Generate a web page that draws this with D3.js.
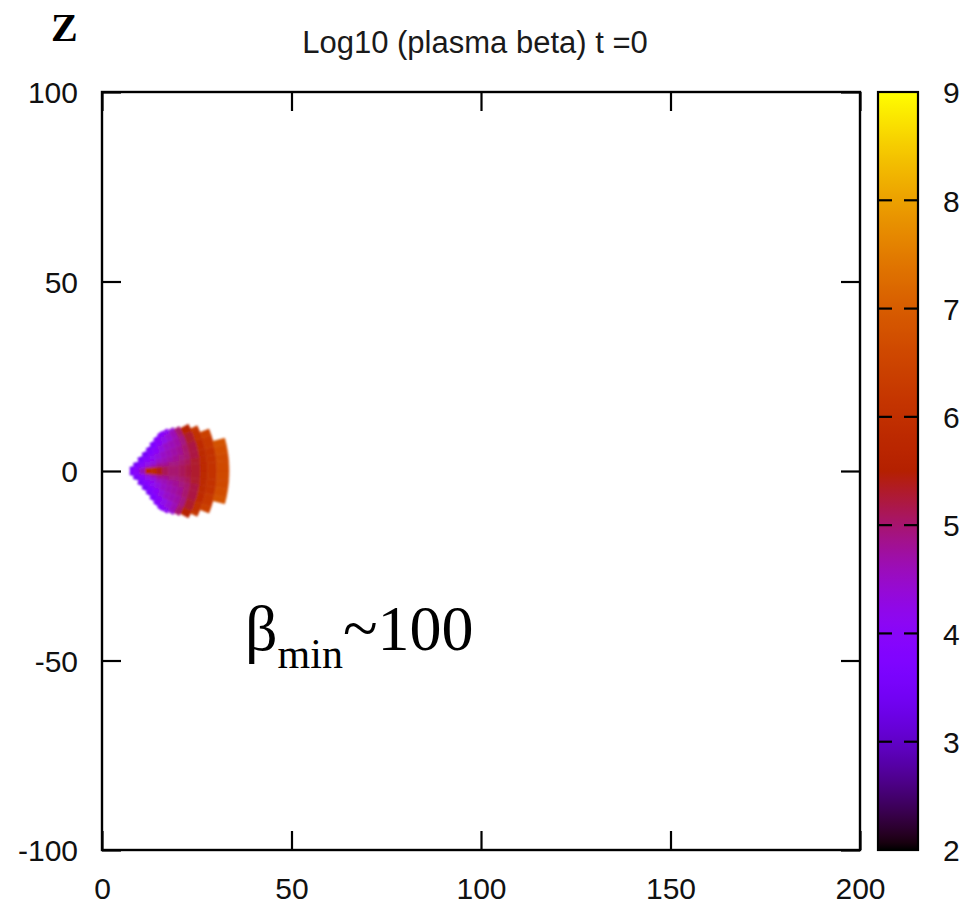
<!DOCTYPE html>
<html>
<head>
<meta charset="utf-8">
<script src="https://cdn.jsdelivr.net/npm/d3@7"></script>
<style>
  html, body { margin: 0; padding: 0; background: #fff; }
  svg { display: block; }
</style>
</head>
<body>
<svg id="chart" width="968" height="912"></svg>
<script>
// ---- data ----------------------------------------------------------------
const xTicks = [0, 50, 100, 150, 200];
const zTicks = [-100, -50, 0, 50, 100];
const cbTicks = [2, 3, 4, 5, 6, 7, 8, 9];

// Torus cells on a spherical grid centred at the origin (r, elevation angle).
const shellEdges = [7.4, 8.5, 10, 11.5, 13, 14.5, 16, 17.5, 19, 20.5, 22, 23.5, 25.9, 27.8, 30.3, 33.5];
const angleEdges = [0, 4.5, 8, 12, 18, 24, 30, 36];         // degrees from the equator
const shellThetaMax = [8, 14, 20, 24, 27, 30, 32, 33.5, 33, 31.5, 30, 28.5, 25.5, 21.5, 15];
// log10(beta) per shell, from the equator outward (mirrored below the equator)
const logBeta = [
  [3.8, 3.5],
  [4.0, 3.9, 3.6, 3.4],
  [4.6, 4.1, 3.9, 3.6, 3.4],
  [5.8, 4.4, 4.2, 3.9, 3.5],
  [5.9, 4.6, 4.3, 4.1, 3.8, 3.5],
  [5.4, 4.8, 4.5, 4.3, 4.0, 3.7],
  [5.1, 4.8, 4.6, 4.5, 4.3, 4.0, 3.8],
  [5.0, 4.9, 4.7, 4.6, 4.5, 4.2, 3.9],
  [5.0, 4.9, 4.8, 4.7, 4.6, 4.4, 4.1],
  [5.1, 5.0, 4.9, 4.8, 4.7, 4.6, 4.4],
  [5.2, 5.1, 5.0, 5.0, 4.9, 5.0],
  [5.3, 5.3, 5.2, 5.2, 5.3, 5.6],
  [5.8, 5.8, 5.8, 5.9, 6.0, 6.2],
  [6.1, 6.1, 6.1, 6.2, 6.4],
  [6.6, 6.6, 6.7, 6.8]
];

// ---- layout ----------------------------------------------------------------
const svg = d3.select("#chart");
const plot = { left: 102, right: 860, top: 92, bottom: 850 };
const cb = { left: 878, right: 918 };
const sansFont = "'Liberation Sans', Arial, sans-serif";
const serifFont = "'Liberation Serif', 'Times New Roman', serif";
const plain = d => String(d);

const x = d3.scaleLinear().domain([0, 200]).range([plot.left, plot.right]);
const z = d3.scaleLinear().domain([-100, 100]).range([plot.bottom, plot.top]);
const c = d3.scaleLinear().domain([2, 9]).range([plot.bottom, plot.top]);

// gnuplot default palette (rgbformulae 7,5,15)
function palette(v) {
  const t = Math.max(0, Math.min(1, (v - 2) / 7));
  const r = Math.sqrt(t), g = t * t * t, b = Math.max(0, Math.sin(2 * Math.PI * t));
  return d3.rgb(255 * r, 255 * g, 255 * b).formatHex();
}

const defs = svg.append("defs");
const blur = defs.append("filter").attr("id", "soft")
  .attr("x", "-10%").attr("y", "-10%").attr("width", "120%").attr("height", "120%");
blur.append("feGaussianBlur").attr("stdDeviation", 0.9);

// ---- torus cells --------------------------------------------------------------
const k = x(1) - x(0);
const cells = [];
logBeta.forEach((row, i) => {
  const r0 = shellEdges[i], r1 = shellEdges[i + 1];
  row.forEach((v, j) => {
    const a0 = angleEdges[j];
    const a1 = Math.min(angleEdges[j + 1], shellThetaMax[i]);
    cells.push({ r0, r1, a0, a1, v, side: 1 });
    cells.push({ r0, r1, a0, a1, v, side: -1 });
  });
});

const rad = Math.PI / 180;
const arc = d3.arc()
  .innerRadius(d => d.r0 * k)
  .outerRadius(d => d.r1 * k)
  .startAngle(d => d.side > 0 ? Math.PI / 2 - d.a1 * rad : Math.PI / 2 + d.a0 * rad)
  .endAngle(d => d.side > 0 ? Math.PI / 2 - d.a0 * rad : Math.PI / 2 + d.a1 * rad);

svg.append("g")
  .attr("transform", `translate(${x(0)},${z(0)})`)
  .attr("filter", "url(#soft)")
  .selectAll("path").data(cells).join("path")
  .attr("d", arc)
  .attr("fill", d => palette(d.v))
  .attr("stroke", d => palette(d.v))
  .attr("stroke-width", 0.6);

// ---- axes (inward ticks on all four sides) -------------------------------------
function styleAxis(g) {
  g.select(".domain").remove();
  g.selectAll(".tick line").attr("stroke", "#000").attr("stroke-width", 2.2);
  g.selectAll(".tick text").attr("fill", "#111")
    .attr("font-family", sansFont).attr("font-size", 30);
}

svg.append("g").attr("transform", `translate(0,${plot.bottom})`)
  .call(d3.axisBottom(x).tickValues(xTicks).tickFormat(plain).tickSize(-19).tickPadding(28))
  .call(styleAxis);
svg.append("g").attr("transform", `translate(0,${plot.top})`)
  .call(d3.axisTop(x).tickValues(xTicks).tickSize(-19).tickFormat(""))
  .call(styleAxis);
svg.append("g").attr("transform", `translate(${plot.left},0)`)
  .call(d3.axisLeft(z).tickValues(zTicks).tickFormat(plain).tickSize(-19).tickPadding(24))
  .call(styleAxis)
  .call(g => g.selectAll(".tick text").attr("dy", "0.36em"));
svg.append("g").attr("transform", `translate(${plot.right},0)`)
  .call(d3.axisRight(z).tickValues(zTicks).tickSize(-19).tickFormat(""))
  .call(styleAxis);

svg.append("rect")
  .attr("x", plot.left).attr("y", plot.top)
  .attr("width", plot.right - plot.left).attr("height", plot.bottom - plot.top)
  .attr("fill", "none").attr("stroke", "#000").attr("stroke-width", 2.4);

// ---- colour box ----------------------------------------------------------------
const grad = defs.append("linearGradient").attr("id", "cbgrad")
  .attr("x1", 0).attr("y1", 1).attr("x2", 0).attr("y2", 0);
d3.range(0, 101).forEach(i => {
  const v = 2 + 7 * i / 100;
  grad.append("stop").attr("offset", `${i}%`).attr("stop-color", palette(v));
});
svg.append("rect")
  .attr("x", cb.left).attr("y", c(9))
  .attr("width", cb.right - cb.left).attr("height", c(2) - c(9))
  .attr("fill", "url(#cbgrad)")
  .attr("stroke", "#000").attr("stroke-width", 2.2);

svg.append("g").attr("transform", `translate(${cb.right},0)`)
  .call(d3.axisRight(c).tickValues(cbTicks).tickFormat(plain).tickSize(0).tickPadding(25))
  .call(styleAxis)
  .call(g => g.selectAll(".tick text").attr("dy", "0.36em"));

// inner tick marks on both edges of the colour box
const inner = cbTicks.filter(v => v > 2 && v < 9);
svg.append("g").selectAll("line").data(inner).join("line")
  .attr("x1", cb.left).attr("x2", cb.left + 14)
  .attr("y1", d => c(d)).attr("y2", d => c(d))
  .attr("stroke", "#000").attr("stroke-width", 2.2);
svg.append("g").selectAll("line").data(inner).join("line")
  .attr("x1", cb.right - 14).attr("x2", cb.right)
  .attr("y1", d => c(d)).attr("y2", d => c(d))
  .attr("stroke", "#000").attr("stroke-width", 2.2);

// ---- titles and annotations ---------------------------------------------------------
svg.append("text")
  .attr("x", 475).attr("y", 53)
  .attr("text-anchor", "middle")
  .attr("font-family", sansFont).attr("font-size", 31).attr("fill", "#1a1a1a")
  .text("Log10 (plasma beta) t =0");

svg.append("text")
  .attr("x", 51).attr("y", 41)
  .attr("font-family", serifFont).attr("font-size", 40).attr("font-weight", "bold")
  .attr("fill", "#000")
  .text("Z");

const note = svg.append("text")
  .attr("x", 245).attr("y", 650)
  .attr("font-family", serifFont).attr("font-size", 64).attr("fill", "#000");
note.append("tspan").text("β");
note.append("tspan").attr("font-size", 42).attr("dy", 18).text("min");
note.append("tspan").attr("dy", -18).text("~100");
</script>
</body>
</html>
